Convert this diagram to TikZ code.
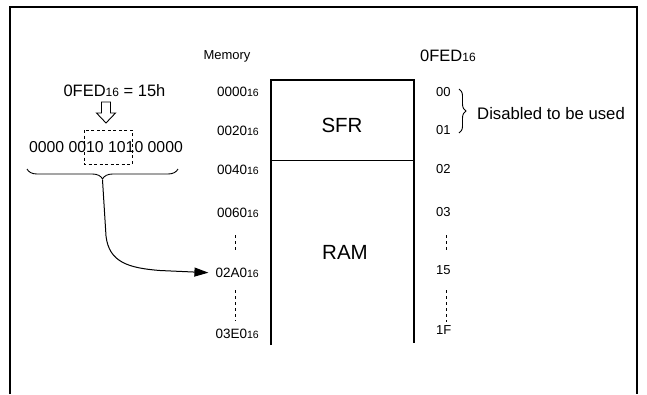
\documentclass[tikz,border=0pt]{standalone}
\usepackage{fontspec}
\setmainfont{Liberation Sans}
\usetikzlibrary{arrows.meta,decorations.pathreplacing}
\newcommand{\hexsub}[1]{{\fontsize{10.5}{12}\selectfont #1}}
\newcommand{\bigsub}[1]{{\fontsize{12}{14}\selectfont #1}}
\begin{document}
\begin{tikzpicture}[x=1pt,y=-1pt,
  addr/.style={anchor=east,inner sep=0pt,font=\fontsize{13.5}{15}\selectfont},
  idx/.style={anchor=west,inner sep=0pt,font=\fontsize{13}{15}\selectfont},
  dotline/.style={dash pattern=on 3pt off 3pt,line width=0.9pt},
  boxline/.style={line width=1.2pt},
  bigtext/.style={inner sep=0pt,font=\fontsize{20.5}{24}\selectfont},
  midtext/.style={inner sep=0pt,font=\fontsize{16.5}{19}\selectfont},
  bracestyle/.style={decorate,line width=0.9pt}]
\useasboundingbox (0,0) rectangle (647,394);
% frame
\draw[line width=2pt] (10,394) -- (10,7) -- (637,7) -- (637,394);
% memory box
\draw[boxline] (271,345) -- (271,80) -- (414,80) -- (414,343);
\draw[boxline] (271,160.5) -- (414,160.5);
\node[bigtext] (sfr) at (342,125) {SFR};
\node[bigtext] (ram) at (345,252) {RAM};
% headings
\node[inner sep=0pt,anchor=base,font=\fontsize{13}{15}\selectfont] (memh) at (227,59.5) {Memory};
\node[midtext,anchor=base west] (fedh) at (420,61) {0FED\bigsub{16}};
% address labels
\node[addr] (a0000) at (259,92) {0000\hexsub{16}};
\node[addr] (a0020) at (259,131) {0020\hexsub{16}};
\node[addr] (a0040) at (259,170) {0040\hexsub{16}};
\node[addr] (a0060) at (259,213) {0060\hexsub{16}};
\node[addr] (a02A0) at (259,273) {02A0\hexsub{16}};
\node[addr] (a03E0) at (259,334) {03E0\hexsub{16}};
\draw[dotline] (235,235) -- (235,252);
\draw[dotline] (235,290) -- (235,321);
% index labels
\node[idx] (i00) at (436,92) {00};
\node[idx] (i01) at (436,130) {01};
\node[idx] (i02) at (436,169) {02};
\node[idx] (i03) at (436,212) {03};
\node[idx] (i15) at (436,270) {15};
\node[idx] (i1F) at (436,330) {1F};
\draw[dotline] (446,235) -- (446,252);
\draw[dotline] (446,290) -- (446,322);
% disabled brace
\draw[bracestyle,decoration={brace,amplitude=7pt}] (459,89) -- (459,133);
\node[anchor=west,inner sep=0pt,font=\fontsize{16.7}{19}\selectfont] (dis) at (477,113.5) {Disabled to be used};
% left explanation
\node[midtext] (eq) at (114.5,90.5) {0FED\bigsub{16} = 15h};
\draw[line width=0.9pt] (101.5,102) -- (110.5,102) -- (110.5,113) -- (115.5,113) -- (106,123) -- (96.5,113) -- (101.5,113) -- cycle;
\node[inner sep=0pt,font=\fontsize{15.8}{18}\selectfont] (bin) at (106,147) {0000 0010 1010 0000};
\draw[dash pattern=on 3pt off 2.5pt,line width=0.9pt] (84,130) rectangle (132,164);
\draw[bracestyle,decoration={brace,mirror,amplitude=10pt}] (27,169) -- (178,169);
\coordinate (btip) at (102.5,180);
\draw[line width=1pt,-{Triangle[length=14pt,width=9pt]},shorten >=7pt] (btip) -- (106,236) .. controls (109,262) and (128,268) .. (160,270.5) -- (a02A0.west);
\end{tikzpicture}
\end{document}
